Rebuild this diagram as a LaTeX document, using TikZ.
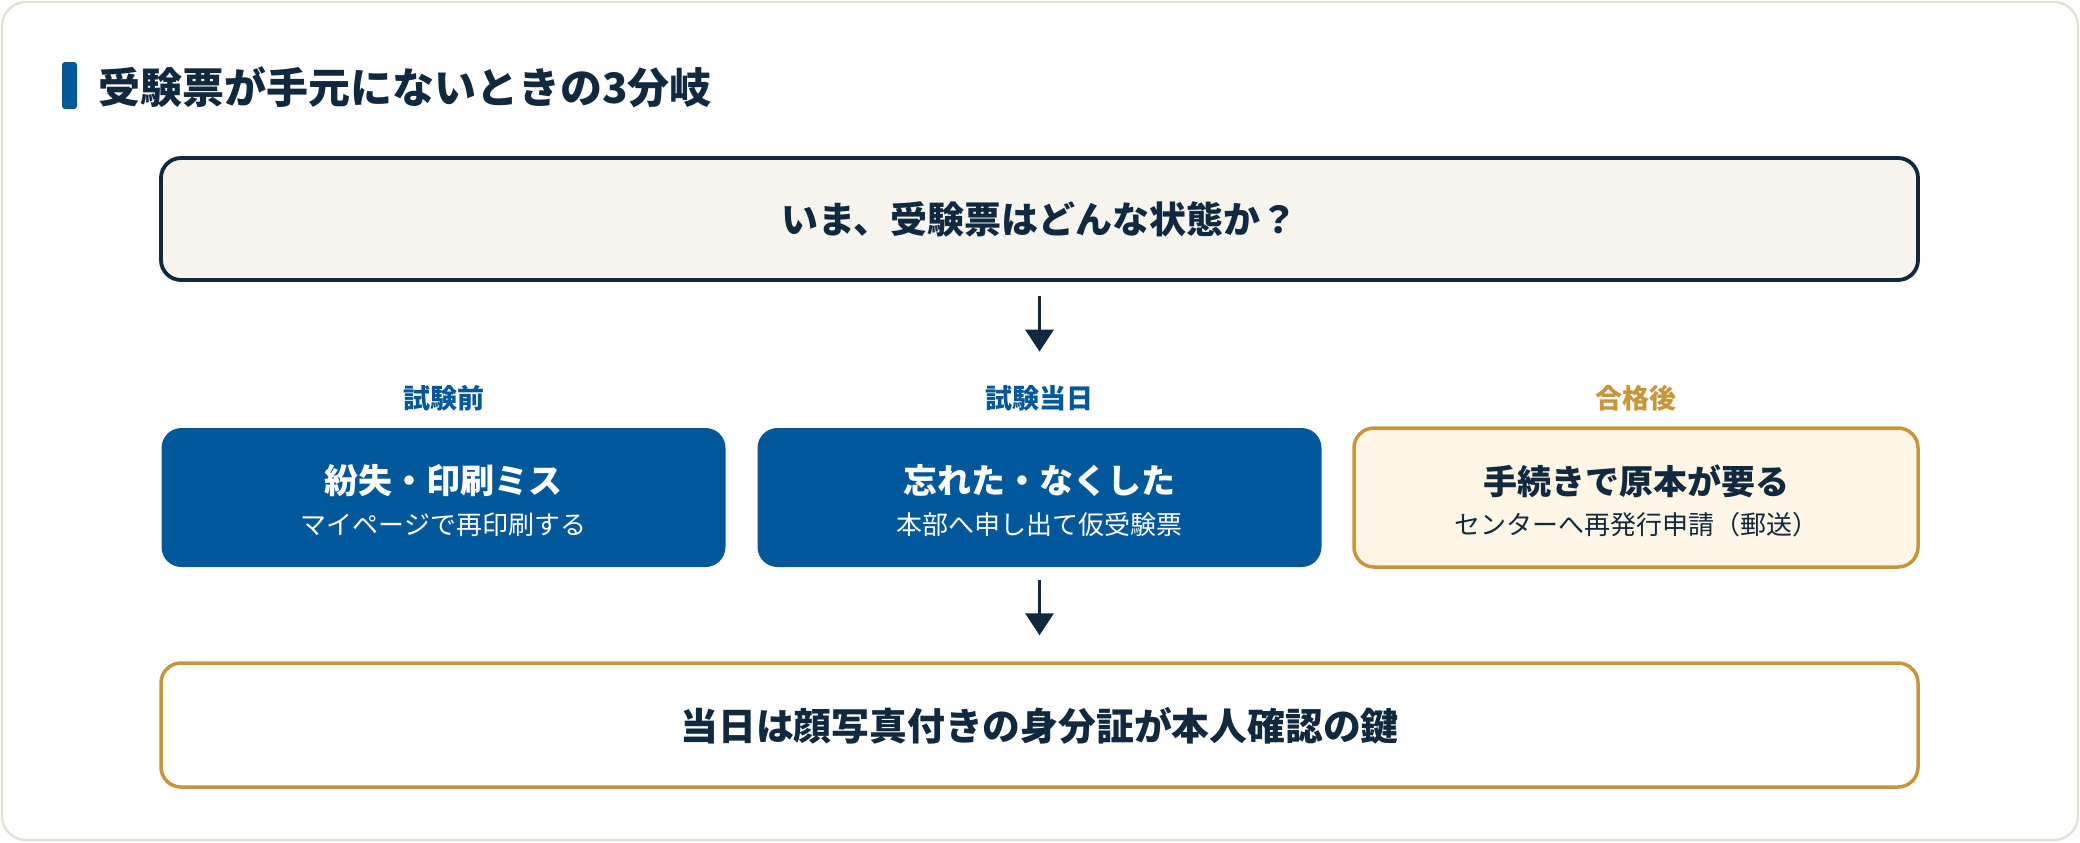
\documentclass[tikz,border=0pt]{standalone}
\usepackage{fontspec}
\setmainfont{Noto Sans CJK JP}
\usetikzlibrary{arrows.meta}
\definecolor{navy}{HTML}{10293F}
\definecolor{bblue}{HTML}{00589B}
\definecolor{gold}{HTML}{C8963A}
\definecolor{cream}{HTML}{FFF6E5}
\definecolor{topfill}{HTML}{F5F4EF}
\definecolor{cardline}{HTML}{E3E1D6}
\tikzset{
  box/.style={rectangle, rounded corners=10pt, inner sep=0pt},
  qbox/.style={box, draw=navy, line width=1.9pt, fill=topfill, minimum width=878.5pt, minimum height=61pt},
  bluebox/.style={box, fill=bblue, minimum width=282pt, minimum height=69.5pt},
  goldbox/.style={box, draw=gold, line width=1.75pt, fill=cream, minimum width=282pt, minimum height=69.5pt},
  keybox/.style={box, draw=gold, line width=1.75pt, fill=white, minimum width=878.5pt, minimum height=62pt},
  bigtxt/.style={font=\fontsize{18.5pt}{22pt}\selectfont\bfseries, text=navy, inner sep=0pt},
  keytxt/.style={font=\fontsize{18.9pt}{22pt}\selectfont\bfseries, text=navy, inner sep=0pt},
  ttl/.style={font=\fontsize{17pt}{20pt}\selectfont\bfseries, inner sep=0pt},
  sub/.style={font=\fontsize{13pt}{16pt}\selectfont, inner sep=0pt},
  lab/.style={font=\fontsize{13.5pt}{16pt}\selectfont\bfseries, inner sep=0pt},
  arr/.style={draw=navy, line width=1.75pt, -{Triangle[width=14pt,length=11pt]}},
}
\begin{document}
\begin{tikzpicture}[x=0.5pt,y=-0.5pt]
\useasboundingbox (0,0) rectangle (2080,842);
% card
\draw[cardline, line width=1.2pt, fill=white, rounded corners=12pt] (2,2) rectangle (2078,840);
% title
\fill[bblue, rounded corners=1.5pt] (62,62) rectangle (77,109);
\node[anchor=west, font=\fontsize{21pt}{25pt}\selectfont\bfseries, text=navy, inner sep=0pt] (title) at (98,87) {受験票が手元にないときの3分岐};
% question
\node[qbox] (q) at (1039.5,219) {};
\node[bigtxt] (qt) at (1039.5,219) {いま、受験票はどんな状態か？};
% labels
\node[lab, text=bblue] (l1) at (443.5,398) {試験前};
\node[lab, text=bblue] (l2) at (1039.5,398) {試験当日};
\node[lab, text=gold] (l3) at (1636,398) {合格後};
% middle boxes
\node[bluebox] (b1) at (443.5,497.5) {};
\node[bluebox] (b2) at (1039.5,497.5) {};
\node[goldbox] (b3) at (1636,497.5) {};
\node[ttl, text=white] (b1t) at (443.5,481) {紛失・印刷ミス};
\node[sub, text=white] (b1s) at (443.5,525) {マイページで再印刷する};
\node[ttl, text=white] (b2t) at (1039.5,481) {忘れた・なくした};
\node[sub, text=white] (b2s) at (1039.5,525) {本部へ申し出て仮受験票};
\node[ttl, text=navy] (b3t) at (1636,481) {手続きで原本が要る};
\node[sub, text=navy] (b3s) at (1636,525) {センターへ再発行申請（郵送）};
% bottom
\node[keybox] (k) at (1039.5,725) {};
\node[keytxt] (kt) at (1039.5,726) {当日は顔写真付きの身分証が本人確認の鍵};
% arrows
\draw[arr, shorten <=7pt, shorten >=38pt] (q.south) -- (b2.north);
\draw[arr, shorten <=6.5pt, shorten >=13pt] (b2.south) -- (k.north);
\end{tikzpicture}
\end{document}
